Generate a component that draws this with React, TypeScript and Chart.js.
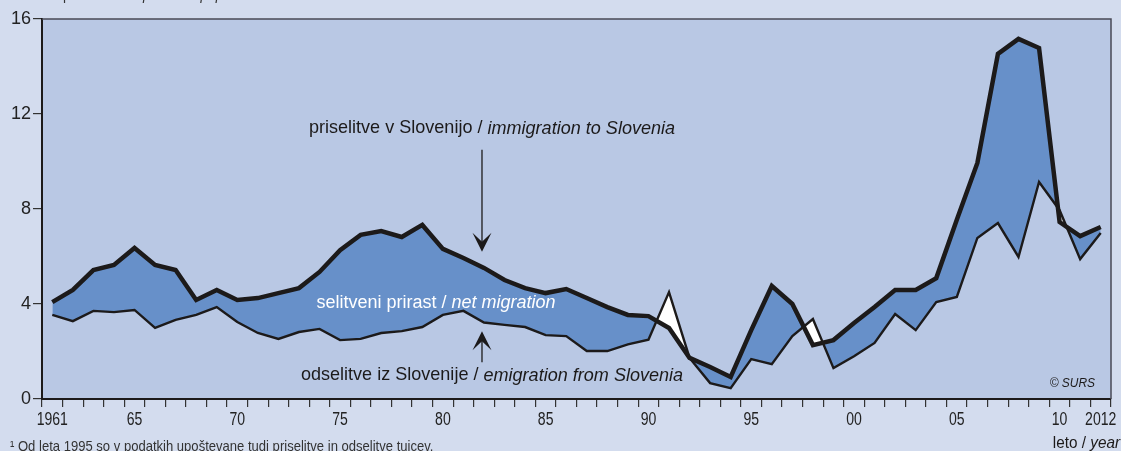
import React, { useEffect, useRef } from "react";
import { Chart, registerables } from "chart.js";

Chart.register(...registerables);

const years: string[] = [
  "1961", "1962", "1963", "1964", "1965", "1966", "1967", "1968", "1969", "1970",
  "1971", "1972", "1973", "1974", "1975", "1976", "1977", "1978", "1979", "1980",
  "1981", "1982", "1983", "1984", "1985", "1986", "1987", "1988", "1989", "1990",
  "1991", "1992", "1993", "1994", "1995", "1996", "1997", "1998", "1999", "2000",
  "2001", "2002", "2003", "2004", "2005", "2006", "2007", "2008", "2009", "2010",
  "2011", "2012",
];

const immigration: number[] = [
  4.08, 4.59, 5.43, 5.64, 6.36, 5.64, 5.43, 4.17, 4.59, 4.17,
  4.25, 4.46, 4.67, 5.35, 6.27, 6.91, 7.07, 6.82, 7.33, 6.32,
  5.94, 5.52, 5.01, 4.67, 4.46, 4.63, 4.25, 3.87, 3.54, 3.49,
  2.99, 1.73, 1.35, 0.93, 2.9, 4.76, 4.0, 2.27, 2.48, 3.2,
  3.87, 4.59, 4.59, 5.09, 7.55, 9.94, 14.53, 15.16, 14.78, 7.45,
  6.86, 7.24,
];

const emigration: number[] = [
  3.54, 3.28, 3.71, 3.66, 3.75, 2.99, 3.33, 3.54, 3.87, 3.24,
  2.78, 2.53, 2.82, 2.95, 2.48, 2.53, 2.78, 2.86, 3.03, 3.54,
  3.71, 3.22, 3.12, 3.03, 2.69, 2.65, 2.02, 2.02, 2.3, 2.5,
  4.5, 1.73, 0.67, 0.46, 1.68, 1.47, 2.65, 3.37, 1.3, 1.8,
  2.36, 3.58, 2.9, 4.08, 4.3, 6.78, 7.41, 5.98, 9.14, 7.95,
  5.89, 6.99,
];

const xTickYears: string[] = ["1961", "1965", "1970", "1975", "1980", "1985", "1990", "1995", "2000", "2005", "2010", "2012"];
const xTickTexts: string[] = ["1961", "65", "70", "75", "80", "85", "90", "95", "00", "05", "10", "2012"];
const yTicks: number[] = [0, 4, 8, 12, 16];

const FONT = "'Liberation Sans', Arial, sans-serif";
const PAGE_BG = "#d3dcee";
const PLOT_BG = "#b9c8e4";
const FILL = "#6790c9";
const INK = "#1c1a1a";

function drawMixed(
  ctx: CanvasRenderingContext2D,
  parts: { t: string; italic: boolean }[],
  ax: number,
  y: number,
  size: number,
  color: string,
  k: number,
  align: "center" | "right" | "left" = "center"
) {
  const widths = parts.map((p) => {
    ctx.font = `${p.italic ? "italic " : ""}${size}px ${FONT}`;
    return ctx.measureText(p.t).width * k;
  });
  const total = widths.reduce((a, b) => a + b, 0);
  let x = align === "center" ? ax - total / 2 : align === "right" ? ax - total : ax;
  ctx.fillStyle = color;
  ctx.textBaseline = "middle";
  ctx.textAlign = "left";
  parts.forEach((p, i) => {
    ctx.font = `${p.italic ? "italic " : ""}${size}px ${FONT}`;
    ctx.save();
    ctx.translate(x, y);
    ctx.scale(k, 1);
    ctx.fillText(p.t, 0, 0);
    ctx.restore();
    x += widths[i];
  });
}

function drawArrowHead(ctx: CanvasRenderingContext2D, x: number, tipY: number, dir: 1 | -1) {
  ctx.beginPath();
  ctx.moveTo(x, tipY);
  ctx.lineTo(x - 9.5, tipY - dir * 19);
  ctx.lineTo(x, tipY - dir * 10);
  ctx.lineTo(x + 9.5, tipY - dir * 19);
  ctx.closePath();
  ctx.fillStyle = INK;
  ctx.fill();
}

const bgPlugin = {
  id: "bgPlugin",
  beforeDraw(chart: any) {
    const { ctx, chartArea } = chart;
    ctx.save();
    ctx.fillStyle = PAGE_BG;
    ctx.fillRect(0, 0, chart.width, chart.height);
    ctx.fillStyle = PLOT_BG;
    ctx.fillRect(chartArea.left, chartArea.top, chartArea.right - chartArea.left, chartArea.bottom - chartArea.top);
    ctx.restore();
  },
  afterDraw(chart: any) {
    const { ctx, chartArea, scales } = chart;
    const xs = scales.x;
    const ys = scales.y;
    ctx.save();
    ctx.strokeStyle = "#4a4a55";
    ctx.lineWidth = 1.5;
    ctx.beginPath();
    ctx.moveTo(chartArea.left, chartArea.top);
    ctx.lineTo(chartArea.right, chartArea.top);
    ctx.lineTo(chartArea.right, chartArea.bottom);
    ctx.stroke();

    xTickYears.forEach((yr, i) => {
      const px = xs.getPixelForValue(years.indexOf(yr));
      drawMixed(ctx, [{ t: xTickTexts[i], italic: false }], px, chartArea.bottom + 21.5, 18, "#222", 0.78);
    });

    const ax = xs.getPixelForValue(years.indexOf("1982")) - 2;

    drawMixed(ctx, [
      { t: "priselitve v Slovenijo / ", italic: false },
      { t: "immigration to Slovenia", italic: true },
    ], 492, ys.getPixelForValue(11.4), 19, INK, 0.95);
    ctx.strokeStyle = INK;
    ctx.lineWidth = 1.3;
    ctx.beginPath();
    ctx.moveTo(ax, ys.getPixelForValue(10.5));
    ctx.lineTo(ax, ys.getPixelForValue(6.4));
    ctx.stroke();
    drawArrowHead(ctx, ax, ys.getPixelForValue(6.2), 1);

    drawMixed(ctx, [
      { t: "selitveni prirast / ", italic: false },
      { t: "net migration", italic: true },
    ], 436, ys.getPixelForValue(4.05), 18, "#ffffff", 1.0);

    ctx.strokeStyle = INK;
    ctx.beginPath();
    ctx.moveTo(ax, ys.getPixelForValue(1.55));
    ctx.lineTo(ax, ys.getPixelForValue(2.6));
    ctx.stroke();
    drawArrowHead(ctx, ax, ys.getPixelForValue(2.85), -1);
    drawMixed(ctx, [
      { t: "odselitve iz Slovenije / ", italic: false },
      { t: "emigration from Slovenia", italic: true },
    ], 492, ys.getPixelForValue(1.0), 19, INK, 0.95);

    drawMixed(ctx, [{ t: "© SURS", italic: true }], chartArea.right - 16, chartArea.bottom - 16, 13, INK, 0.92, "right");

    drawMixed(ctx, [
      { t: "na 1000 prebivalcev / ", italic: false },
      { t: "per 1000 population", italic: true },
    ], 10, -4, 16, "#333333", 0.85, "left");

    drawMixed(ctx, [
      { t: "¹ Od leta 1995 so v podatkih upoštevane tudi priselitve in odselitve tujcev.", italic: false },
    ], 10, 447, 15, "#333333", 0.87, "left");

    drawMixed(ctx, [
      { t: "leto / ", italic: false },
      { t: "year", italic: true },
    ], 1120, 443, 17, INK, 0.9, "right");
    ctx.restore();
  },
};

export default function App() {
  const ref = useRef<HTMLCanvasElement | null>(null);
  useEffect(() => {
    if (!ref.current) return;
    const chart = new Chart(ref.current, {
      type: "line",
      data: {
        labels: years,
        datasets: [
          {
            label: "immigration",
            data: immigration,
            borderColor: INK,
            borderWidth: 4.5,
            pointRadius: 0,
            borderJoinStyle: "miter",
            tension: 0,
            fill: { target: 1, above: FILL, below: "#ffffff" },
          },
          {
            label: "emigration",
            data: emigration,
            borderColor: INK,
            borderWidth: 2.4,
            pointRadius: 0,
            borderJoinStyle: "miter",
            tension: 0,
            fill: false,
          },
        ],
      },
      options: {
        responsive: false,
        animation: false,
        devicePixelRatio: 1,
        layout: { padding: { top: 19, right: 10, left: 0, bottom: 0 } },
        plugins: {
          legend: { display: false },
          tooltip: { enabled: false },
          filler: { drawTime: "beforeDatasetsDraw" },
        },
        scales: {
          x: {
            type: "category",
            offset: true,
            grid: { offset: true, drawOnChartArea: false, drawTicks: true, tickLength: 8, color: "#333", lineWidth: 1.2 },
            border: { display: true, color: INK, width: 2 },
            ticks: {
              autoSkip: false,
              maxRotation: 0,
              padding: 3,
              font: { family: FONT, size: 17 },
              callback: () => "",
            },
            afterFit: (s: any) => { s.height = 52; },
          },
          y: {
            min: 0,
            max: 16,
            afterBuildTicks: (s: any) => { s.ticks = yTicks.map((v) => ({ value: v })); },
            grid: { drawOnChartArea: false, drawTicks: true, tickLength: 9, color: "#333", lineWidth: 1.2 },
            border: { display: true, color: INK, width: 2 },
            ticks: { padding: 2, color: "#222", font: { family: FONT, size: 18 } },
            afterFit: (s: any) => { s.width = 42; },
          },
        },
      },
      plugins: [bgPlugin],
    } as any);
    return () => chart.destroy();
  }, []);
  return (
    <div style={{ position: "fixed", left: 0, top: 0, width: 1121, height: 451, background: PAGE_BG }}>
      <canvas ref={ref} width={1121} height={451} style={{ display: "block" }} />
    </div>
  );
}
